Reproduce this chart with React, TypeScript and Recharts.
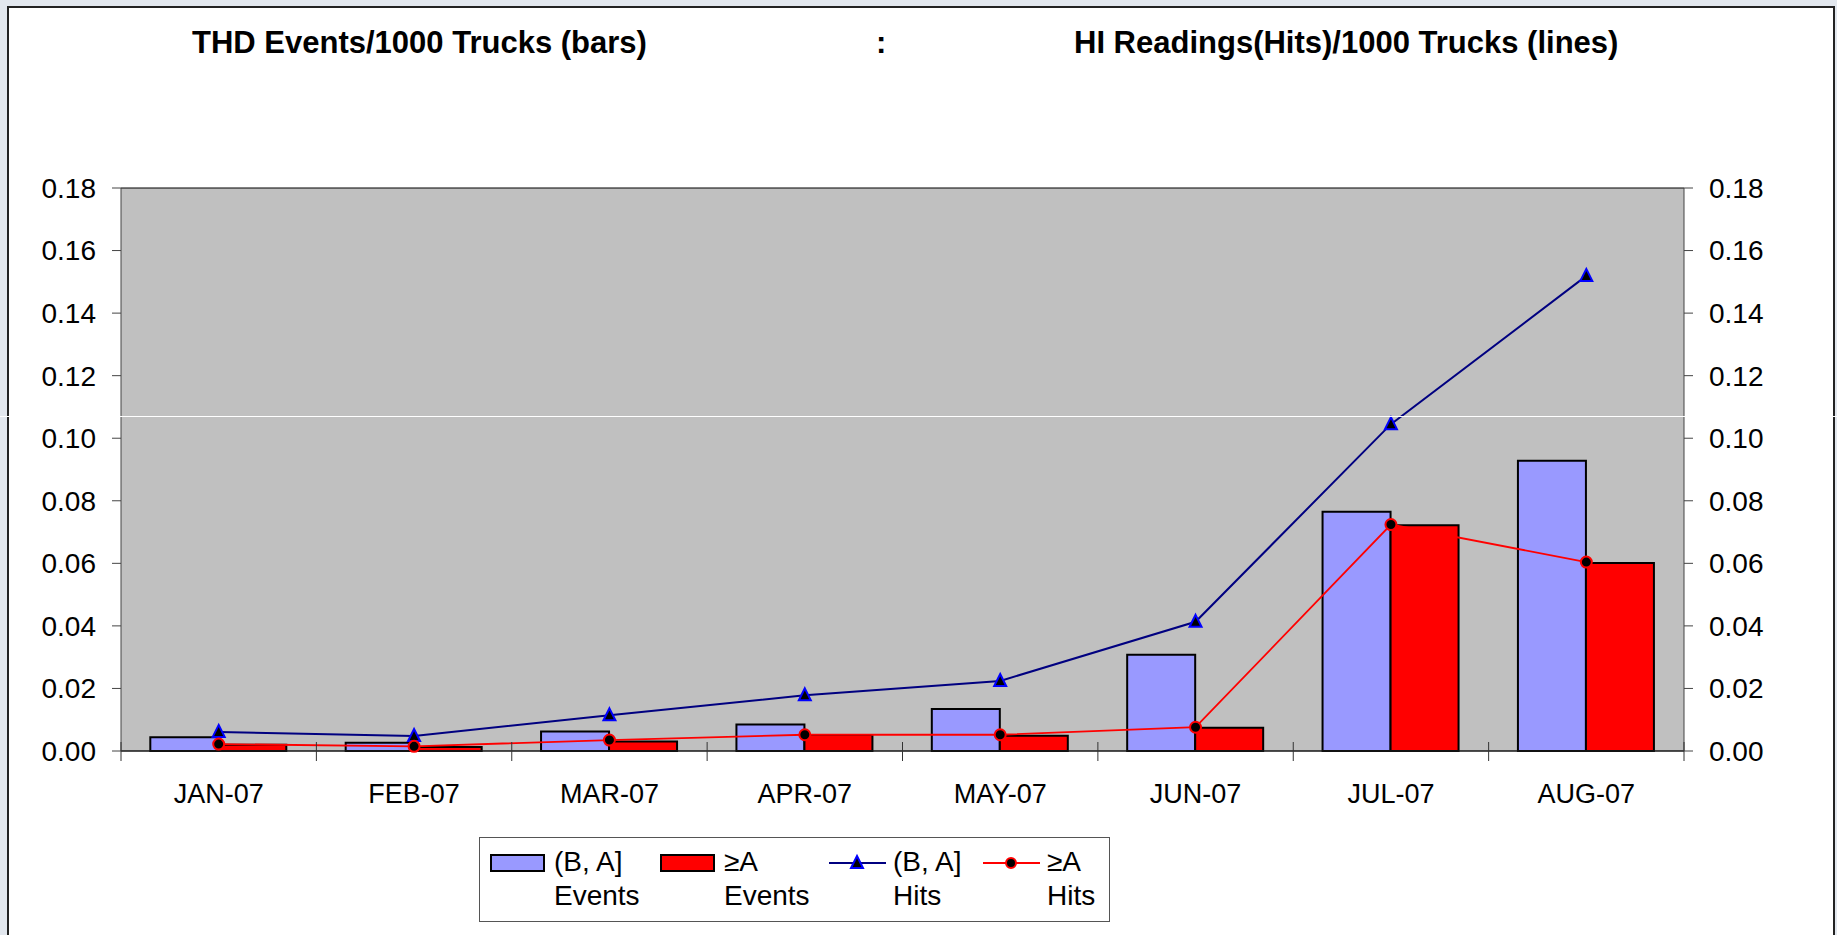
import React from "react";
import {
  ComposedChart,
  Bar,
  Line,
  XAxis,
  YAxis,
  CartesianGrid,
} from "recharts";

const months = ["JAN-07", "FEB-07", "MAR-07", "APR-07", "MAY-07", "JUN-07", "JUL-07", "AUG-07"];
const baEvents = [0.0044, 0.0026, 0.0062, 0.0085, 0.0134, 0.0308, 0.0765, 0.0928];
const geAEvents = [0.002, 0.0013, 0.003, 0.0051, 0.0049, 0.0074, 0.0722, 0.0601];
const baHits = [0.0061, 0.0048, 0.0114, 0.0178, 0.0224, 0.0413, 0.1045, 0.1519];
const geAHits = [0.0022, 0.0015, 0.0035, 0.0052, 0.0052, 0.0076, 0.0724, 0.0604];
const yTicks = [0, 0.02, 0.04, 0.06, 0.08, 0.1, 0.12, 0.14, 0.16, 0.18];

const chartData = months.map((m, i) => ({
  month: m,
  baEvents: baEvents[i],
  geAEvents: geAEvents[i],
  baHits: baHits[i],
  geAHits: geAHits[i],
}));

const FONT = "'Liberation Sans', Arial, Helvetica, sans-serif";
const W = 1837;
const H = 935;

function MonthTick(props: any) {
  const { x, y, payload, index, visibleTicksCount, width } = props;
  const count = visibleTicksCount || months.length;
  const band = width && width > 200 ? width / count : 195.4;
  const axisY = y - 10;
  const left = x - band / 2;
  const right = x + band / 2;
  return (
    <g>
      <line x1={left} x2={left} y1={axisY - 9} y2={axisY + 10} stroke="#333" />
      {index === count - 1 && (
        <line x1={right} x2={right} y1={axisY - 9} y2={axisY + 10} stroke="#333" />
      )}
      <text x={x} y={axisY + 52} textAnchor="middle" fontSize={27} fill="#000">
        {payload.value}
      </text>
    </g>
  );
}

function TriangleDot(props: any) {
  const { cx, cy, index } = props;
  if (cx == null || cy == null) return <g key={`t-${index}`} />;
  return (
    <polygon
      key={`t-${index}`}
      points={`${cx},${cy - 7} ${cx + 6},${cy + 5} ${cx - 6},${cy + 5}`}
      fill="#000"
      stroke="#0000ff"
      strokeWidth={2}
    />
  );
}

function CircleDot(props: any) {
  const { cx, cy, index } = props;
  if (cx == null || cy == null) return <g key={`c-${index}`} />;
  return (
    <circle key={`c-${index}`} cx={cx} cy={cy} r={5.5} fill="#000" stroke="#ff0000" strokeWidth={2} />
  );
}

const legendItems = [
  { kind: "bar", color: "#9999ff", line1: "(B, A]", line2: "Events", left: 490 },
  { kind: "bar", color: "#ff0000", line1: "≥A", line2: "Events", left: 660 },
  { kind: "tri", color: "#000080", line1: "(B, A]", line2: "Hits", left: 829 },
  { kind: "dot", color: "#ff0000", line1: "≥A", line2: "Hits", left: 983 },
];

function ChartLegend() {
  return (
    <>
      <div
        style={{
          position: "absolute",
          left: 479,
          top: 837,
          width: 629,
          height: 83,
          border: "1px solid #555",
          background: "#fff",
        }}
      />
      {legendItems.map((item) => (
        <div key={item.left} style={{ position: "absolute", left: item.left, top: 845 }}>
          {item.kind === "bar" ? (
            <div
              style={{
                position: "absolute",
                left: 0,
                top: 9,
                width: 51,
                height: 14,
                background: item.color,
                border: "2px solid #000",
              }}
            />
          ) : (
            <svg style={{ position: "absolute", left: 0, top: 4 }} width={57} height={28}>
              <line x1={0} x2={57} y1={14} y2={14} stroke={item.color} strokeWidth={2} />
              {item.kind === "tri" ? (
                <polygon points="28,7 34,19 22,19" fill="#000" stroke="#0000ff" strokeWidth={2} />
              ) : (
                <circle cx={28} cy={14} r={5} fill="#000" stroke="#ff0000" strokeWidth={2} />
              )}
            </svg>
          )}
          <div
            style={{
              position: "absolute",
              left: 64,
              top: 0,
              fontSize: 28,
              lineHeight: "34px",
              whiteSpace: "nowrap",
              color: "#000",
            }}
          >
            <div>{item.line1}</div>
            <div>{item.line2}</div>
          </div>
        </div>
      ))}
    </>
  );
}

export default function App() {
  return (
    <div
      style={{
        position: "relative",
        width: W,
        height: H,
        overflow: "hidden",
        background: "#e2e7ee",
        fontFamily: FONT,
      }}
    >
      <style>{`body{margin:0}`}</style>
      {/* white slide panel */}
      <div
        style={{
          position: "absolute",
          left: 7,
          top: 6,
          width: 1824,
          height: 940,
          background: "#fff",
          border: "2px solid #222",
        }}
      />

      {/* title */}
      <div
        style={{
          position: "absolute",
          top: 27,
          left: 0,
          width: W,
          height: 32,
          fontSize: 31,
          lineHeight: "31px",
          fontWeight: "bold",
          color: "#000",
          whiteSpace: "nowrap",
        }}
      >
        <span style={{ position: "absolute", left: 192 }}>THD Events/1000 Trucks (bars)</span>
        <span style={{ position: "absolute", left: 876 }}>:</span>
        <span style={{ position: "absolute", left: 1074 }}>HI Readings(Hits)/1000 Trucks (lines)</span>
      </div>

      <div style={{ position: "absolute", left: 0, top: 0 }}>
        <ComposedChart
          width={W}
          height={H}
          data={chartData}
          margin={{ top: 188, right: 0, bottom: 0, left: 0 }}
          barCategoryGap="15%"
          barGap={0}
        >
          <CartesianGrid vertical={false} stroke="#000" fill="#c0c0c0" fillOpacity={1} />
          <XAxis
            dataKey="month"
            height={184}
            tickLine={false}
            tickSize={10}
            tickMargin={0}
            axisLine={{ stroke: "#222" }}
            tick={<MonthTick />}
            interval={0}
          />
          <YAxis
            yAxisId="left"
            width={121}
            domain={[0, 0.18]}
            ticks={yTicks}
            tickFormatter={(v: number) => v.toFixed(2)}
            tickSize={9}
            tickMargin={16}
            tick={{ fill: "#000", fontSize: 28 }}
            axisLine={{ stroke: "#444" }}
            tickLine={{ stroke: "#444" }}
          />
          <YAxis
            yAxisId="right"
            orientation="right"
            width={153}
            domain={[0, 0.18]}
            ticks={yTicks}
            tickFormatter={(v: number) => v.toFixed(2)}
            tickSize={9}
            tickMargin={16}
            tick={{ fill: "#000", fontSize: 28 }}
            axisLine={{ stroke: "#444" }}
            tickLine={{ stroke: "#444" }}
          />
          <Bar
            yAxisId="left"
            dataKey="baEvents"
            name="(B, A] Events"
            fill="#9999ff"
            stroke="#000"
            strokeWidth={2}
            isAnimationActive={false}
          />
          <Bar
            yAxisId="left"
            dataKey="geAEvents"
            name="≥A Events"
            fill="#ff0000"
            stroke="#000"
            strokeWidth={2}
            isAnimationActive={false}
          />
          <Line
            yAxisId="right"
            dataKey="baHits"
            name="(B, A] Hits"
            type="linear"
            stroke="#000080"
            strokeWidth={2}
            dot={<TriangleDot />}
            activeDot={false}
            isAnimationActive={false}
          />
          <Line
            yAxisId="right"
            dataKey="geAHits"
            name="≥A Hits"
            type="linear"
            stroke="#ff0000"
            strokeWidth={1.8}
            dot={<CircleDot />}
            activeDot={false}
            isAnimationActive={false}
          />
        </ComposedChart>
      </div>

      {/* scan artifact line across the slide */}
      <div
        style={{ position: "absolute", left: 0, top: 416, width: W, height: 1, background: "#fff" }}
      />

      <ChartLegend />
    </div>
  );
}
